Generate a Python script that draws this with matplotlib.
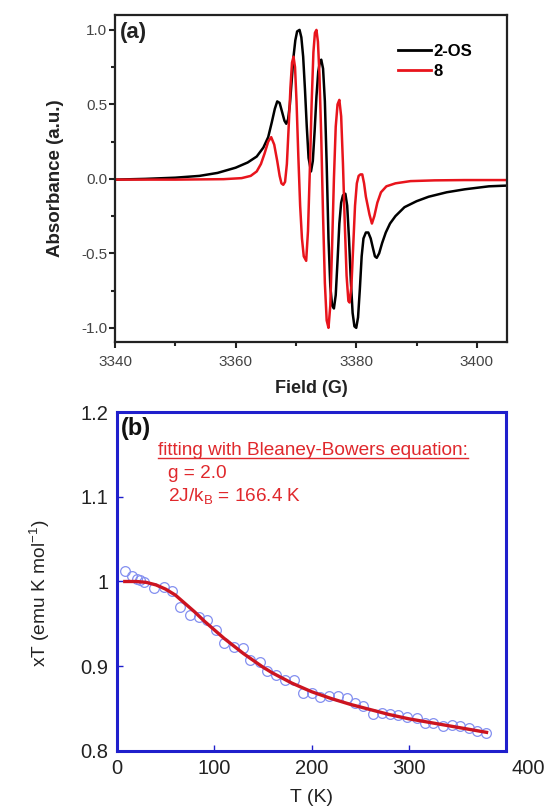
import matplotlib
matplotlib.use("Agg")
import matplotlib.pyplot as plt
from matplotlib.ticker import MultipleLocator, FixedLocator, FixedFormatter
from matplotlib.lines import Line2D
from matplotlib.transforms import ScaledTranslation

plt.rcParams['font.family'] = ['Liberation Sans', 'DejaVu Sans']

# ---- Panel (a): EPR spectra ----
field_2os = [3340, 3345, 3350, 3354, 3357, 3360, 3362, 3363.5, 3364.6, 3365.4, 3366.0, 3366.5, 3366.9,
             3367.3, 3367.7, 3368.1, 3368.4, 3368.7, 3369.0, 3369.3, 3369.6, 3369.9, 3370.2, 3370.6,
             3370.9, 3371.2, 3371.5, 3371.8, 3372.1, 3372.5, 3372.8, 3373.1, 3373.4, 3373.7, 3374.0,
             3374.2, 3374.5, 3374.8, 3375.1, 3375.4, 3375.7, 3376.0, 3376.3, 3376.6, 3376.9, 3377.2,
             3377.5, 3377.8, 3378.2, 3378.5, 3378.8, 3379.1, 3379.4, 3379.7, 3380.0, 3380.3, 3380.6,
             3380.9, 3381.2, 3381.6, 3382.0, 3382.4, 3382.8, 3383.1, 3383.4, 3383.8, 3384.3, 3384.9,
             3385.6, 3386.5, 3388, 3390, 3392, 3395, 3398, 3402, 3405]
abs_2os = [-0.005, 0.0, 0.008, 0.02, 0.04, 0.075, 0.11, 0.15, 0.21, 0.28, 0.38, 0.47, 0.52,
           0.51, 0.45, 0.39, 0.37, 0.40, 0.50, 0.66, 0.82, 0.93, 0.99, 1.0,
           0.95, 0.82, 0.60, 0.35, 0.14, 0.05, 0.12, 0.32, 0.55, 0.72, 0.79,
           0.80, 0.74, 0.52, 0.10, -0.40, -0.72, -0.85, -0.87, -0.78, -0.55, -0.30,
           -0.16, -0.11, -0.10, -0.18, -0.40, -0.68, -0.90, -0.99, -1.0, -0.93, -0.74,
           -0.52, -0.40, -0.36, -0.36, -0.40, -0.47, -0.52, -0.53, -0.50, -0.43, -0.36,
           -0.30, -0.25, -0.19, -0.15, -0.12, -0.09, -0.07, -0.05, -0.045]

field_8 = [3340, 3350, 3358, 3361, 3362.5, 3363.5, 3364.2, 3364.8, 3365.4, 3365.9, 3366.4, 3366.9,
           3367.3, 3367.6, 3367.9, 3368.2, 3368.5, 3368.8, 3369.1, 3369.35, 3369.6, 3369.85, 3370.1,
           3370.4, 3370.7, 3371.0, 3371.3, 3371.7, 3372.0, 3372.3, 3372.6, 3372.9, 3373.15, 3373.4,
           3373.65, 3373.9, 3374.2, 3374.5, 3374.8, 3375.1, 3375.4, 3375.7, 3376.0, 3376.3, 3376.6,
           3376.9, 3377.2, 3377.5, 3377.8, 3378.1, 3378.4, 3378.7, 3378.9, 3379.2, 3379.5, 3379.8,
           3380.1, 3380.4, 3380.7, 3381.0, 3381.3, 3381.6, 3381.9, 3382.2, 3382.6, 3383.0, 3383.5,
           3384.1, 3385, 3386.5, 3389, 3393, 3398, 3405]
abs_8 = [-0.005, -0.005, -0.002, 0.005, 0.02, 0.05, 0.10, 0.17, 0.25, 0.28, 0.23, 0.12,
         0.02, -0.03, -0.04, -0.02, 0.10, 0.35, 0.62, 0.78, 0.82, 0.75, 0.52,
         0.15, -0.18, -0.40, -0.52, -0.55, -0.35, 0.05, 0.50, 0.85, 0.98, 1.0,
         0.92, 0.70, 0.28, -0.25, -0.70, -0.95, -1.0, -0.85, -0.45, 0.0, 0.35,
         0.50, 0.53, 0.42, 0.10, -0.30, -0.65, -0.82, -0.83, -0.72, -0.45, -0.18,
         -0.03, 0.02, 0.03, 0.03, -0.03, -0.12, -0.18, -0.24, -0.30, -0.25, -0.16,
         -0.09, -0.05, -0.03, -0.015, -0.01, -0.008, -0.008]

a_xticks = [3340, 3360, 3380, 3400]
a_yticks = [-1.0, -0.5, 0.0, 0.5, 1.0]
a_yticklabels = ['-1.0', '-0.5', '0.0', '0.5', '1.0']

# ---- Panel (b): chi*T vs T ----
T_data = [8.6, 15.4, 20.5, 23.3, 27.4, 37.7, 47.9, 56.5, 65.1, 74.7, 83.9, 92.5, 102.1, 110.3,
          119.9, 129.1, 137.0, 146.6, 154.1, 163.0, 172.9, 182.2, 191.1, 200.3, 208.9, 217.5,
          227.7, 236.3, 244.9, 253.4, 263.0, 272.3, 280.8, 289.4, 298.6, 308.2, 316.8, 325.3,
          334.9, 344.2, 352.7, 362.3, 370.5, 379.5]
chiT_data = [1.0126, 1.0063, 1.0024, 1.0016, 0.9992, 0.9925, 0.9937, 0.989, 0.970, 0.960, 0.958,
             0.955, 0.943, 0.927, 0.923, 0.921, 0.907, 0.905, 0.894, 0.890, 0.884, 0.884, 0.869,
             0.869, 0.864, 0.865, 0.865, 0.863, 0.857, 0.853, 0.844, 0.845, 0.844, 0.842, 0.840,
             0.839, 0.833, 0.833, 0.829, 0.831, 0.829, 0.827, 0.824, 0.821]
T_fit = [8, 20, 30, 40, 50, 60, 70, 80, 90, 100, 110, 120, 130, 140, 150, 160, 170, 180, 190,
         200, 220, 240, 260, 280, 300, 320, 340, 360, 380]
chiT_fit = [1.000, 1.000, 0.999, 0.996, 0.991, 0.984, 0.974, 0.964, 0.953, 0.943, 0.933, 0.924,
            0.915, 0.907, 0.899, 0.892, 0.886, 0.880, 0.875, 0.870, 0.862, 0.855, 0.849, 0.843,
            0.838, 0.834, 0.830, 0.826, 0.822]

b_yticks = [0.8, 0.9, 1.0, 1.1, 1.2]
b_yticklabels = ['0.8', '0.9', '1', '1.1', '1.2']
b_xticks = [0, 100, 200, 300, 400]

W, H = 551, 809
fig = plt.figure(figsize=(W / 100, H / 100), dpi=100)

# Panel (a)
axa = fig.add_axes([115 / W, 1 - 342 / H, (507 - 115) / W, (342 - 15) / H])
axa.plot(field_2os, abs_2os, color='black', lw=1.8, label='2-OS')
axa.plot(field_8, abs_8, color='#e8141c', lw=1.8, label='8')
axa.set_xlim(3340, 3405)
axa.set_ylim(-1.095, 1.10)
axa.xaxis.set_major_locator(FixedLocator(a_xticks))
axa.xaxis.set_minor_locator(MultipleLocator(10))
axa.yaxis.set_major_locator(FixedLocator(a_yticks))
axa.yaxis.set_minor_locator(MultipleLocator(0.25))
axa.yaxis.set_major_formatter(FixedFormatter(a_yticklabels))
axa.tick_params(which='both', direction='out', top=False, right=False, width=1.5, colors='#222222',
                labelcolor='#444444', labelsize=11)
axa.tick_params(which='major', length=4)
axa.tick_params(which='minor', length=3)
axa.tick_params(axis='x', which='major', pad=5)
axa.tick_params(axis='y', which='major', pad=1.5)
for s in axa.spines.values():
    s.set_linewidth(1.6)
    s.set_color('#222222')
axa.set_xlabel('Field (G)', fontsize=13, fontweight='bold', color='#222222')
axa.set_ylabel('Absorbance (a.u.)', fontsize=13.5, fontweight='bold', color='#222222')
axa.xaxis.set_label_coords(0.5, -0.116)
axa.yaxis.set_label_coords(-0.13, 0.5)
axa.text(3340.8, 0.98, '(a)', fontsize=16, fontweight='bold', va='center', ha='left', color='#222222')
leg = axa.legend(loc='upper left', bbox_to_anchor=(0.722, 0.912), frameon=False,
                 prop={'weight': 'bold', 'size': 12}, handlelength=2.0, handletextpad=0.15,
                 labelspacing=0.3, borderpad=0, borderaxespad=0)
for ln in leg.get_lines():
    ln.set_linewidth(2.0)

# Panel (b)
blue = '#1f1fcc'
axb = fig.add_axes([117 / W, 1 - 751 / H, (506 - 117) / W, (751 - 412) / H])
axb.plot(T_data, chiT_data, linestyle='none', marker='o', markersize=7, markerfacecolor='none',
         markeredgecolor='#8490f0', markeredgewidth=0.9)
axb.plot(T_fit, chiT_fit, color='#cc1420', lw=2.4)
axb.set_xlim(0, 400)
axb.set_ylim(0.8, 1.2)
axb.xaxis.set_major_locator(FixedLocator(b_xticks))
axb.yaxis.set_major_locator(FixedLocator(b_yticks))
axb.yaxis.set_major_formatter(FixedFormatter(b_yticklabels))
axb.tick_params(direction='in', length=4, width=1, color=blue, labelcolor='#222222', labelsize=14.5,
                pad=6)
for s in axb.spines.values():
    s.set_linewidth(2.2)
    s.set_color(blue)
axb.set_xlabel('T (K)', fontsize=14, color='#222222')
axb.set_ylabel('xT (emu K mol$^{\\mathregular{-1}}$)', fontsize=13.8, color='#222222')
axb.xaxis.set_label_coords(0.5, -0.112)
axb.yaxis.set_label_coords(-0.168, 0.465)
axb.text(3.5, 1.18, '(b)', fontsize=17, fontweight='bold', va='center', ha='left', color='#111111')
red = '#e0282c'
t1 = axb.text(42, 1.155, 'fitting with Bleaney-Bowers equation:', fontsize=13.7, color=red,
              va='center', ha='left')
axb.text(52.4, 1.128, 'g = 2.0', fontsize=13.7, color=red, va='center', ha='left')
axb.text(52.4, 1.0997, '2J/k$_{\\mathregular{B}}$ = 166.4 K', fontsize=13.7, color=red,
         va='center', ha='left')

fig.canvas.draw()
# the last x tick label ("400") sits to the right of its tick in the reference
lbl = axb.xaxis.get_major_ticks()[-1].label1
lbl.set_transform(lbl.get_transform() + ScaledTranslation(0.22, 0, fig.dpi_scale_trans))

bb = t1.get_window_extent().transformed(fig.transFigure.inverted())
fig.add_artist(Line2D([bb.x0, bb.x1], [bb.y0 + 0.001, bb.y0 + 0.001], transform=fig.transFigure,
                      color=red, lw=1.0))

fig.savefig('out.png', dpi=100)
